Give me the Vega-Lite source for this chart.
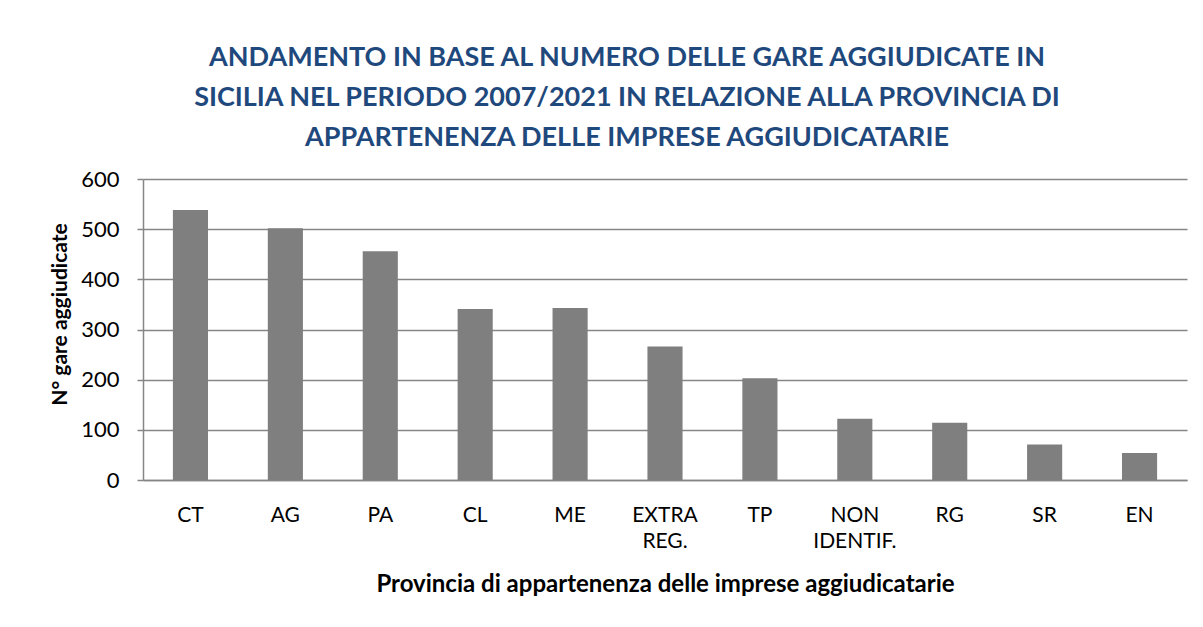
{
  "$schema": "https://vega.github.io/schema/vega-lite/v6.json",
  "autosize": {"type": "none"},
  "padding": {"left": 143, "top": 179, "right": 16, "bottom": 147},
  "width": 1044,
  "height": 301,
  "background": "white",
  "title": {
    "text": ["ANDAMENTO IN BASE AL NUMERO DELLE GARE AGGIUDICATE  IN", "SICILIA NEL PERIODO 2007/2021 IN RELAZIONE ALLA PROVINCIA DI", "APPARTENENZA DELLE IMPRESE AGGIUDICATARIE"],
    "font": "Lato",
    "fontSize": 27,
    "fontWeight": "bold",
    "color": "#1F497D",
    "lineHeight": 40,
    "anchor": "middle",
    "frame": "group",
    "dx": -38,
    "offset": 16
  },
  "data": {
    "values": [
      {"provincia": "CT", "gare": 538},
      {"provincia": "AG", "gare": 502},
      {"provincia": "PA", "gare": 456},
      {"provincia": "CL", "gare": 341},
      {"provincia": "ME", "gare": 343},
      {"provincia": "EXTRA REG.", "gare": 266},
      {"provincia": "TP", "gare": 203},
      {"provincia": "NON IDENTIF.", "gare": 122},
      {"provincia": "RG", "gare": 114},
      {"provincia": "SR", "gare": 71},
      {"provincia": "EN", "gare": 54}
    ]
  },
  "mark": {"type": "bar", "color": "#7F7F7F"},
  "encoding": {
    "x": {
      "field": "provincia",
      "type": "nominal",
      "sort": null,
      "scale": {"paddingInner": 0.63, "paddingOuter": 0.315},
      "axis": {
        "title": "Provincia di appartenenza delle imprese aggiudicatarie",
        "titleFont": "Lato",
        "titleFontSize": 24,
        "titleFontWeight": "bold",
        "titleColor": "#000000",
        "titlePadding": 21,
        "labelAngle": 0,
        "labelExpr": "split(datum.label, ' ')",
        "labelFont": "Lato",
        "labelFontSize": 21,
        "labelColor": "#000000",
        "labelLineHeight": 26,
        "labelPadding": 24,
        "ticks": false,
        "domainColor": "#868686",
        "domainWidth": 1.5
      }
    },
    "y": {
      "field": "gare",
      "type": "quantitative",
      "scale": {"domain": [0, 600]},
      "axis": {
        "title": "N° gare aggiudicate",
        "titleFont": "Lato",
        "titleFontSize": 21,
        "titleFontWeight": "bold",
        "titleColor": "#000000",
        "titlePadding": 10,
        "titleY": 135,
        "values": [0, 100, 200, 300, 400, 500, 600],
        "labelFont": "Lato",
        "labelFontSize": 22,
        "labelColor": "#000000",
        "labelPadding": 18,
        "tickSize": 6,
        "tickColor": "#868686",
        "tickWidth": 1.5,
        "domainColor": "#868686",
        "domainWidth": 1.5,
        "gridColor": "#868686",
        "gridWidth": 1.5
      }
    }
  },
  "config": {"view": {"stroke": null}}
}
